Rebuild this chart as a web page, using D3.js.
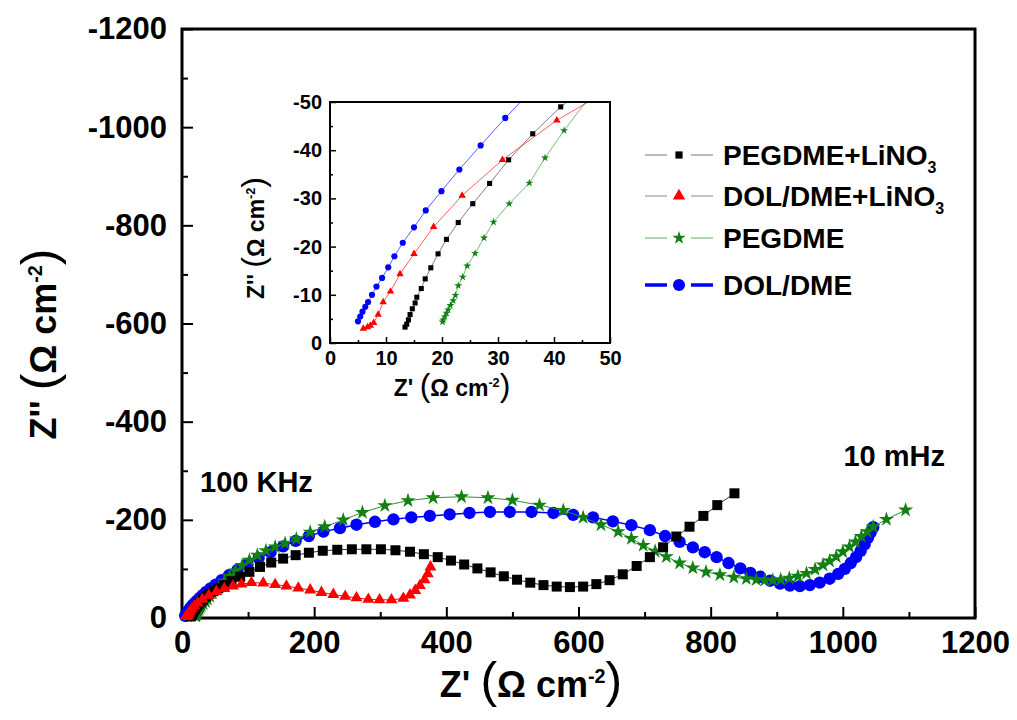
<!DOCTYPE html>
<html>
<head>
<meta charset="utf-8">
<script src="https://cdn.jsdelivr.net/npm/d3@7/dist/d3.min.js"></script>
<style>
  body { margin: 0; background: #fff; }
  text { font-family: "Liberation Sans", Arial, sans-serif; font-weight: bold; fill: #000; }
</style>
</head>
<body>
<svg id="chart" width="1017" height="720"></svg>
<script>
// Z' , Z'' (ohm cm-2)
const pegdmeLi = [[13.4,-3.3],[13.7,-3.9],[14.0,-4.8],[14.3,-5.9],[14.7,-7.1],[15.2,-8.3],[15.5,-9.5],[16.3,-11.3],[17.0,-13.3],[18.0,-15.6],[19.3,-18.5],[20.8,-21.5],[22.9,-25.0],[25.5,-28.9],[28.5,-33.1],[31.9,-38.0],[36.2,-43.4],[41.2,-49.0],[47.5,-54.5],[55,-60.5],[64,-67],[75,-75],[88,-84],[102,-94],[118,-104],[135,-113],[153,-121],[172,-128],[192,-133],[213,-137],[235,-139],[257,-140],[279,-140],[301,-140],[323,-138],[345,-135],[366,-130],[387,-124],[407,-117],[427,-109],[447,-101],[467,-93],[487,-85],[507,-78],[527,-72],[547,-67],[567,-64],[587,-63],[607,-64],[627,-69],[647,-77],[667,-89],[688,-106],[708,-124],[728,-144],[748,-166],[768,-186],[789,-208],[810,-230],[836,-254]];
const dolLi = [[5.95,-3.0],[6.7,-3.3],[7.2,-3.6],[7.8,-4.2],[8.6,-5.9],[9.5,-8.5],[10.8,-10.7],[12.5,-14.3],[15.0,-18.5],[18.5,-24.1],[23.6,-30.6],[30.8,-38.0],[40.5,-46.2],[52,-54],[64,-60],[77,-65],[90,-69],[105,-72],[123,-71],[141,-68],[158,-65],[176,-61],[194,-57],[211,-52],[229,-48],[247,-44],[264,-41],[282,-38],[299,-37],[317,-37],[335,-40],[345,-47],[353,-56],[360,-66],[367,-78],[372,-90],[376,-104]];
const pegdme = [[20.1,-4.4],[20.2,-4.8],[20.5,-5.5],[20.8,-6.2],[21.1,-6.9],[21.5,-7.8],[22.0,-8.8],[22.4,-9.9],[22.9,-11.9],[23.7,-13.7],[24.5,-16.0],[25.9,-18.6],[27.5,-21.8],[29.2,-25.1],[32.0,-28.9],[35.6,-33.2],[38.4,-38.4],[41.8,-44.1],[46,-50.5],[51,-58],[57,-66],[64,-75],[72,-85],[81,-96],[91,-107],[102,-118],[114,-128],[127,-137],[141,-145],[156,-152],[173,-161],[194,-175],[216,-186],[244,-200],[273,-215],[307,-229],[342,-239],[380,-245],[423,-247],[463,-245],[500,-240],[541,-230],[577,-219],[607,-205],[634,-190],[660,-176],[680,-162],[698,-148],[716,-136],[733,-125],[753,-112],[773,-102],[793,-94],[814,-88],[835,-83],[854,-80],[869,-78],[882,-77],[894,-77],[906,-78],[919,-81],[932,-85],[945,-91],[958,-99],[970,-108],[980,-116],[990,-125],[1000,-135],[1010,-145],[1019,-155],[1028,-166],[1037,-176],[1046,-186],[1066,-201],[1095,-220]];
const dolDme = [[5.0,-4.5],[5.4,-5.5],[5.8,-6.5],[6.3,-7.5],[6.8,-8.5],[7.5,-10],[8.3,-11.7],[9.3,-13.5],[10.4,-15.7],[11.5,-18],[13,-20.8],[15,-24],[17.1,-27.5],[19.9,-31.5],[23.1,-36],[26.9,-41],[31.3,-46.7],[36.5,-53],[43,-60],[51,-68],[60,-77],[71,-87],[84,-98],[99,-110],[116,-122],[134,-134],[153,-146],[172,-157],[192,-167],[214,-176],[239,-183],[264,-190],[292,-196],[320,-201],[347,-205],[375,-208],[405,-211],[435,-214],[466,-216],[496,-216],[529,-216],[562,-214],[592,-210],[622,-205],[652,-197],[680,-189],[708,-179],[731,-167],[753,-155],[773,-144],[791,-134],[809,-124],[827,-112],[845,-101],[860,-92],[875,-84],[890,-76],[905,-70],[920,-66],[935,-65],[950,-67],[965,-72],[980,-80],[993,-90],[1003,-100],[1012,-112],[1020,-124],[1027,-137],[1033,-150],[1038,-163],[1042,-174],[1046,-185]];

const seriesNames = ["PEGDME+LiNO", "DOL/DME+LiNO", "PEGDME", "DOL/DME"];
const seriesSubs = ["3", "3", "", ""];
const mainXTicks = [0, 200, 400, 600, 800, 1000, 1200];
const mainYTicks = [0, -200, -400, -600, -800, -1000, -1200];
const insetXTicks = [0, 10, 20, 30, 40, 50];
const insetYTicks = [0, -10, -20, -30, -40, -50];

const series = [
  {name: seriesNames[0], sub: seriesSubs[0], data: pegdmeLi, color: "#000000", line: "#333333", lw: 1, sym: d3.symbolSquare, size: 100, inSize: 26, legLine: "#777777", legLw: 1.2, legSize: 52},
  {name: seriesNames[1], sub: seriesSubs[1], data: dolLi, color: "#ff0000", line: "#ff0000", lw: 1, sym: d3.symbolTriangle, size: 62, inSize: 24, legLine: "#888888", legLw: 1.2, legSize: 66},
  {name: seriesNames[2], sub: seriesSubs[2], data: pegdme, color: "#128012", line: "#2f8f2f", lw: 1, sym: d3.symbolStar, size: 70, inSize: 20, legLine: "#5fa85f", legLw: 1.2, legSize: 55},
  {name: seriesNames[3], sub: seriesSubs[3], data: dolDme, color: "#0000ff", line: "#0000ff", lw: 1.5, sym: d3.symbolCircle, size: 120, inSize: 30, legLine: "#0000ff", legLw: 3.5, legSize: 115}
];
const drawOrder = [3, 2, 0, 1];

const svg = d3.select("#chart");
svg.append("rect").attr("width", 1017).attr("height", 720).attr("fill", "#fff");

// main frame
const M = {left: 182, right: 975, top: 29, bottom: 618};
const x = d3.scaleLinear().domain([0, 1200]).range([M.left, M.right]);
const y = d3.scaleLinear().domain([0, -1200]).range([M.bottom, M.top]);

function styleAxis(g, fs) {
  g.select(".domain").remove();
  g.selectAll(".tick line").attr("stroke", "#000").attr("stroke-width", 2);
  g.selectAll("text").attr("font-size", fs).attr("fill", "#000");
}

const gx = svg.append("g").attr("transform", `translate(0,${M.bottom})`)
  .call(d3.axisBottom(x).tickValues(mainXTicks).tickSizeInner(-11).tickSizeOuter(0).tickPadding(13).tickFormat(d => String(d)));
styleAxis(gx, 31);
const gxm = svg.append("g").attr("transform", `translate(0,${M.bottom})`)
  .call(d3.axisBottom(x).tickValues(d3.range(100, 1200, 200)).tickSize(-6).tickFormat(""));
styleAxis(gxm, 0);

const gy = svg.append("g").attr("transform", `translate(${M.left},0)`)
  .call(d3.axisLeft(y).tickValues(mainYTicks).tickSizeInner(-11).tickSizeOuter(0).tickPadding(15).tickFormat(d => String(d)));
styleAxis(gy, 31);
const gym = svg.append("g").attr("transform", `translate(${M.left},0)`)
  .call(d3.axisLeft(y).tickValues(d3.range(-100, -1200, -200)).tickSize(-6).tickFormat(""));
styleAxis(gym, 0);

svg.append("rect")
  .attr("x", M.left).attr("y", M.top)
  .attr("width", M.right - M.left).attr("height", M.bottom - M.top)
  .attr("fill", "none").attr("stroke", "#000").attr("stroke-width", 3);

// axis titles with tall parentheses
function unitTitle(g, main, fs, pfs) {
  const t = g.append("text").attr("text-anchor", "middle");
  t.append("tspan").attr("font-size", fs).text(main + " ");
  t.append("tspan").attr("font-size", pfs).attr("font-weight", "normal").text("(");
  t.append("tspan").attr("font-size", fs).text("\u03A9 cm");
  t.append("tspan").attr("font-size", fs * 0.55).attr("dy", -fs * 0.4).text("-2");
  t.append("tspan").attr("font-size", pfs).attr("font-weight", "normal").attr("dy", fs * 0.4).text(")");
  return t;
}
unitTitle(svg.append("g").attr("transform", "translate(531,697)"), "Z'", 36, 50);
unitTitle(svg.append("g").attr("transform", "translate(56,344) rotate(-90)"), "Z''", 36, 50);

// series in the main plot
const mainLayer = svg.append("g");
drawOrder.forEach(i => {
  const s = series[i];
  mainLayer.append("path")
    .datum(s.data)
    .attr("fill", "none").attr("stroke", s.line).attr("stroke-width", s.lw)
    .attr("d", d3.line().x(d => x(d[0])).y(d => y(d[1])));
  mainLayer.append("g").selectAll("path")
    .data(s.data)
    .join("path")
    .attr("transform", d => `translate(${x(d[0])},${y(d[1])})`)
    .attr("d", d3.symbol().type(s.sym).size(s.size))
    .attr("fill", s.color);
});

// annotations
svg.append("text").attr("x", 200).attr("y", 492).attr("font-size", 29).text("100 KHz");
svg.append("text").attr("x", 945).attr("y", 466).attr("text-anchor", "end").attr("font-size", 29).text("10 mHz");

// legend
const legendY = [155, 196, 238, 285];
const legend = svg.append("g");
series.forEach((s, i) => {
  const g = legend.append("g").attr("transform", `translate(0,${legendY[i]})`);
  g.append("line").attr("x1", 645).attr("x2", 713).attr("y1", 0).attr("y2", 0)
    .attr("stroke", s.legLine).attr("stroke-width", s.legLw);
  g.append("rect").attr("x", 667).attr("y", -6).attr("width", 24).attr("height", 12).attr("fill", "#fff");
  g.append("path").attr("transform", "translate(679,0)")
    .attr("d", d3.symbol().type(s.sym).size(s.legSize)).attr("fill", s.color);
  const t = g.append("text").attr("x", 723).attr("y", 10).attr("font-size", 28);
  t.append("tspan").text(s.name);
  if (s.sub) t.append("tspan").attr("font-size", 16).attr("dy", 8).text(s.sub);
});

// inset
const I = {left: 330, right: 610, top: 102, bottom: 343};
const ix = d3.scaleLinear().domain([0, 50]).range([I.left, I.right]);
const iy = d3.scaleLinear().domain([0, -50]).range([I.bottom, I.top]);
const inset = svg.append("g");
inset.append("rect").attr("x", I.left).attr("y", I.top)
  .attr("width", I.right - I.left).attr("height", I.bottom - I.top).attr("fill", "#fff");

const igx = inset.append("g").attr("transform", `translate(0,${I.bottom})`)
  .call(d3.axisBottom(ix).tickValues(insetXTicks).tickSizeInner(-6).tickSizeOuter(0).tickPadding(8).tickFormat(d => String(d)));
styleAxis(igx, 20);
const igxm = inset.append("g").attr("transform", `translate(0,${I.bottom})`)
  .call(d3.axisBottom(ix).tickValues(d3.range(5, 50, 10)).tickSize(-3).tickFormat(""));
styleAxis(igxm, 0);
const igy = inset.append("g").attr("transform", `translate(${I.left},0)`)
  .call(d3.axisLeft(iy).tickValues(insetYTicks).tickSizeInner(-6).tickSizeOuter(0).tickPadding(8).tickFormat(d => String(d)));
styleAxis(igy, 20);
const igym = inset.append("g").attr("transform", `translate(${I.left},0)`)
  .call(d3.axisLeft(iy).tickValues(d3.range(-5, -50, -10)).tickSize(-3).tickFormat(""));
styleAxis(igym, 0);
inset.selectAll(".tick line").attr("stroke-width", 1.5);

svg.append("clipPath").attr("id", "insetClip").append("rect")
  .attr("x", I.left).attr("y", I.top).attr("width", I.right - I.left).attr("height", I.bottom - I.top);

const inPlot = inset.append("g").attr("clip-path", "url(#insetClip)");
drawOrder.forEach(i => {
  const s = series[i];
  inPlot.append("path")
    .datum(s.data)
    .attr("fill", "none").attr("stroke", s.line).attr("stroke-width", 0.9).attr("opacity", 0.7)
    .attr("d", d3.line().x(d => ix(d[0])).y(d => iy(d[1])));
  inPlot.append("g").selectAll("path")
    .data(s.data.filter(d => d[0] <= 50 && d[1] >= -50))
    .join("path")
    .attr("transform", d => `translate(${ix(d[0])},${iy(d[1])})`)
    .attr("d", d3.symbol().type(s.sym).size(s.inSize))
    .attr("fill", s.color);
});

inset.append("rect").attr("x", I.left).attr("y", I.top)
  .attr("width", I.right - I.left).attr("height", I.bottom - I.top)
  .attr("fill", "none").attr("stroke", "#000").attr("stroke-width", 2);

unitTitle(inset.append("g").attr("transform", "translate(452,396)"), "Z'", 23, 32);
unitTitle(inset.append("g").attr("transform", "translate(264,238) rotate(-90)"), "Z''", 23, 32);
</script>
</body>
</html>
